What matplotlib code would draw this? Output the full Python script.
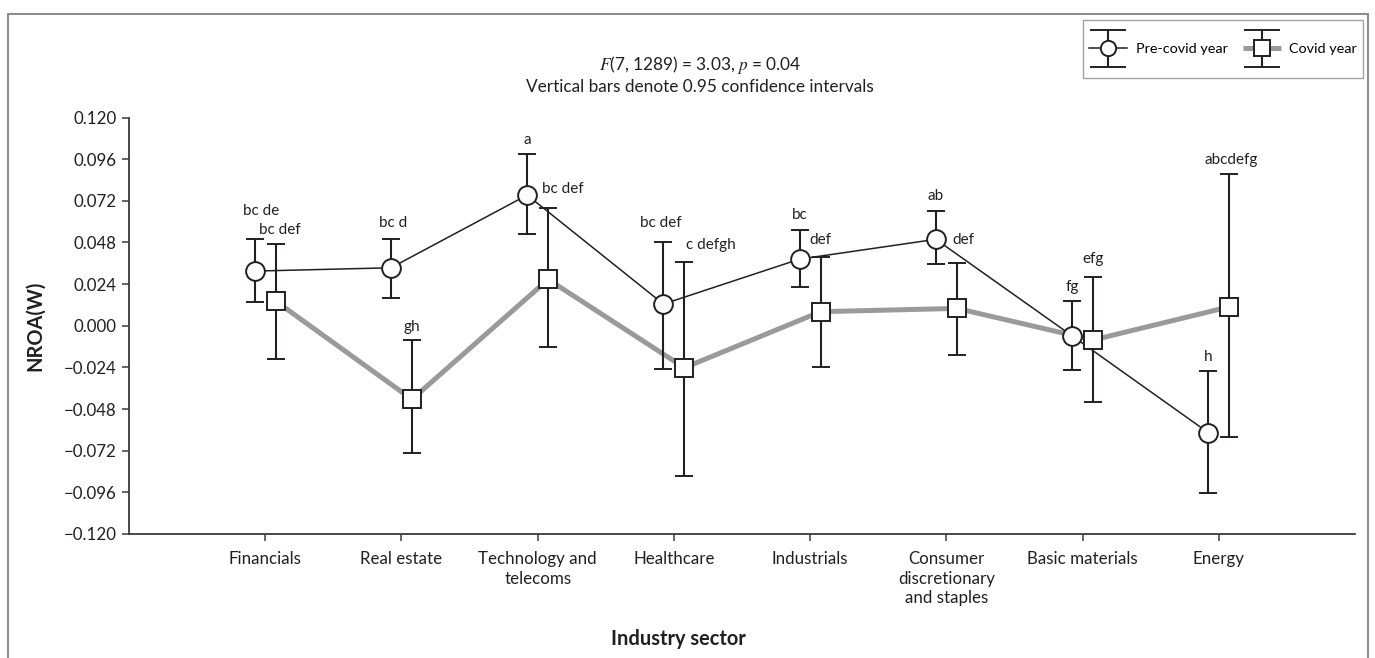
import numpy as np
import matplotlib
matplotlib.use('Agg')
import matplotlib.pyplot as plt
from matplotlib.patches import Rectangle
from matplotlib.lines import Line2D
from matplotlib.transforms import Affine2D
from matplotlib.container import ErrorbarContainer
from matplotlib.legend_handler import HandlerErrorbar, HandlerLine2D

# --- данные ---
sectors = ['Financials', 'Real estate', 'Technology and\ntelecoms', 'Healthcare',
           'Industrials', 'Consumer\ndiscretionary\nand staples', 'Basic materials', 'Energy']

pre_mean = [0.0315, 0.0334, 0.0753, 0.0125, 0.0384, 0.0498, -0.0058, -0.0616]
pre_low = [0.0135, 0.0161, 0.0528, -0.0249, 0.0225, 0.0357, -0.0255, -0.0965]
pre_high = [0.0501, 0.0501, 0.0989, 0.0484, 0.0549, 0.0659, 0.0142, -0.0261]

covid_mean = [0.0142, -0.0424, 0.0267, -0.0242, 0.0081, 0.0100, -0.0082, 0.0109]
covid_low = [-0.0192, -0.0732, -0.0121, -0.0866, -0.0236, -0.0169, -0.0438, -0.0643]
covid_high = [0.0472, -0.0082, 0.0676, 0.0365, 0.0397, 0.0359, 0.0282, 0.0872]

pre_groups = ['bc de', 'bc d', 'a', 'bc def', 'bc', 'ab', 'fg', 'h']
covid_groups = ['bc def', 'gh', 'bc def', 'c defgh', 'def', 'def', 'efg', 'abcdefg']

yticks = [0.120, 0.096, 0.072, 0.048, 0.024, 0.000, -0.024, -0.048, -0.072, -0.096, -0.120]

# сдвиги подписей (в пикселях) относительно верхнего конца интервала
pre_offsets = [(6, 28), (2, 16), (0, 14), (-3, 19), (0, 15), (0, 15), (0, 14), (0, 14)]
covid_offsets = [(4, 14), (0, 13), (15, 19), (26, 17), (0, 17), (7, 23), (0, 18), (2, 14)]

INK = '#231f20'
GREY = '#9a9a9a'
LEG_DROP = 6.5    # опускаем значки легенды (pt)


class LowerErrorbar(HandlerErrorbar):
    def create_artists(self, legend, orig_handle, xdescent, ydescent, width, height,
                       fontsize, trans):
        arts = super().create_artists(legend, orig_handle, xdescent, ydescent, width,
                                      height, fontsize, trans)
        t = Affine2D().translate(0, -LEG_DROP) + trans
        for a in arts:
            a.set_transform(t)
            if isinstance(a, Line2D):
                if a.get_marker() == '_':
                    a.set_markersize(26)
                elif a.get_marker() not in ('None', '', None):
                    a.set_markersize(11)
        return arts


class LowerLine(HandlerLine2D):
    def create_artists(self, legend, orig_handle, xdescent, ydescent, width, height,
                       fontsize, trans):
        arts = super().create_artists(legend, orig_handle, xdescent, ydescent, width,
                                      height, fontsize, trans)
        t = Affine2D().translate(0, -LEG_DROP) + trans
        for a in arts:
            a.set_transform(t)
        return arts


plt.rcParams['font.family'] = ['Lato', 'DejaVu Sans']
plt.rcParams['font.size'] = 12.2
plt.rcParams['mathtext.fontset'] = 'stix'

fig = plt.figure(figsize=(13.75, 6.58), dpi=100)
ax = fig.add_axes([129 / 1375, 124 / 658, 1226 / 1375, 416.5 / 658])

x = np.arange(len(sectors))
shift = 0.077
x_pre = x - shift
x_cov = x + shift

pre_mean = np.array(pre_mean)
covid_mean = np.array(covid_mean)
pre_err = [pre_mean - np.array(pre_low), np.array(pre_high) - pre_mean]
cov_err = [covid_mean - np.array(covid_low), np.array(covid_high) - covid_mean]

# линии, соединяющие средние
ln_cov, = ax.plot(x_cov, covid_mean, color=GREY, lw=3.6, zorder=2, solid_capstyle='butt')
ln_pre, = ax.plot(x_pre, pre_mean, color=INK, lw=1.1, zorder=2.5)

eb_kw = dict(linestyle='none', ecolor=INK, elinewidth=1.5, capsize=6.5, capthick=1.5,
             mfc='white', mec=INK, mew=1.4, zorder=3)
eb_cov = ax.errorbar(x_cov, covid_mean, yerr=cov_err, fmt='s', ms=13, **eb_kw)
eb_pre = ax.errorbar(x_pre, pre_mean, yerr=pre_err, fmt='o', ms=13.5, **eb_kw)

for xi, hi, txt, (dx, dy) in zip(x_pre, pre_high, pre_groups, pre_offsets):
    ax.annotate(txt, (xi, hi), xytext=(dx, dy), textcoords='offset pixels',
                ha='center', va='center', color=INK, fontsize=11)
for xi, hi, txt, (dx, dy) in zip(x_cov, covid_high, covid_groups, covid_offsets):
    ax.annotate(txt, (xi, hi), xytext=(dx, dy), textcoords='offset pixels',
                ha='center', va='center', color=INK, fontsize=11)

ax.set_xlim(-1, 8)
ax.set_ylim(-0.12, 0.12)
ax.set_yticks(yticks)
ax.set_yticklabels([f'{v:.3f}'.replace('-', '\u2212') for v in yticks])
ax.set_xticks(x)
ax.set_xticklabels(sectors, linespacing=1.3)

for side in ('top', 'right'):
    ax.spines[side].set_visible(False)
for side in ('left', 'bottom'):
    ax.spines[side].set_color('#3a3a3a')
    ax.spines[side].set_linewidth(1.3)
ax.tick_params(axis='y', direction='out', length=5, width=1.1, color='#3a3a3a', pad=4,
               labelcolor=INK)
ax.tick_params(axis='x', direction='out', length=5, width=1.1, color='#3a3a3a', pad=7,
               labelcolor=INK)

fig.text(35 / 1375, 1 - 326 / 658, 'NROA(W)', rotation=90, ha='center', va='center',
         fontweight='bold', fontsize=14.4, color=INK)
fig.text(678 / 1375, 1 - 639 / 658, 'Industry sector', ha='center', va='center',
         fontweight='bold', fontsize=14.4, color=INK)

fig.text(700 / 1375, 1 - 65 / 658, r'$\mathit{F}$(7, 1289) = 3.03, $\mathit{p}$ = 0.04',
         ha='center', va='center', color=INK, fontsize=12.4)
fig.text(700 / 1375, 1 - 87 / 658, 'Vertical bars denote 0.95 confidence intervals',
         ha='center', va='center', color=INK, fontsize=12.4)

leg = fig.legend([(ln_pre, eb_pre), (ln_cov, eb_cov)], ['Pre-covid year', 'Covid year'],
                 loc='upper right', bbox_to_anchor=(1363 / 1375, 1 - 20 / 658),
                 borderaxespad=0, ncol=2, frameon=True, fancybox=False,
                 edgecolor='#8c8c8c', handlelength=2.63, handleheight=4.6,
                 columnspacing=1.04, handletextpad=0.62, borderpad=0.4, fontsize=10.4,
                 handler_map={ErrorbarContainer: LowerErrorbar(yerr_size=1.3),
                              Line2D: LowerLine()})
leg.get_frame().set_linewidth(1.0)

# рамка вокруг рисунка
fig.patches.append(Rectangle((8 / 1375, -0.05), 1360 / 1375, 1.05 - 14 / 658,
                             transform=fig.transFigure, fill=False,
                             edgecolor='#808080', lw=1.3))

fig.savefig('out.png', dpi=100)
